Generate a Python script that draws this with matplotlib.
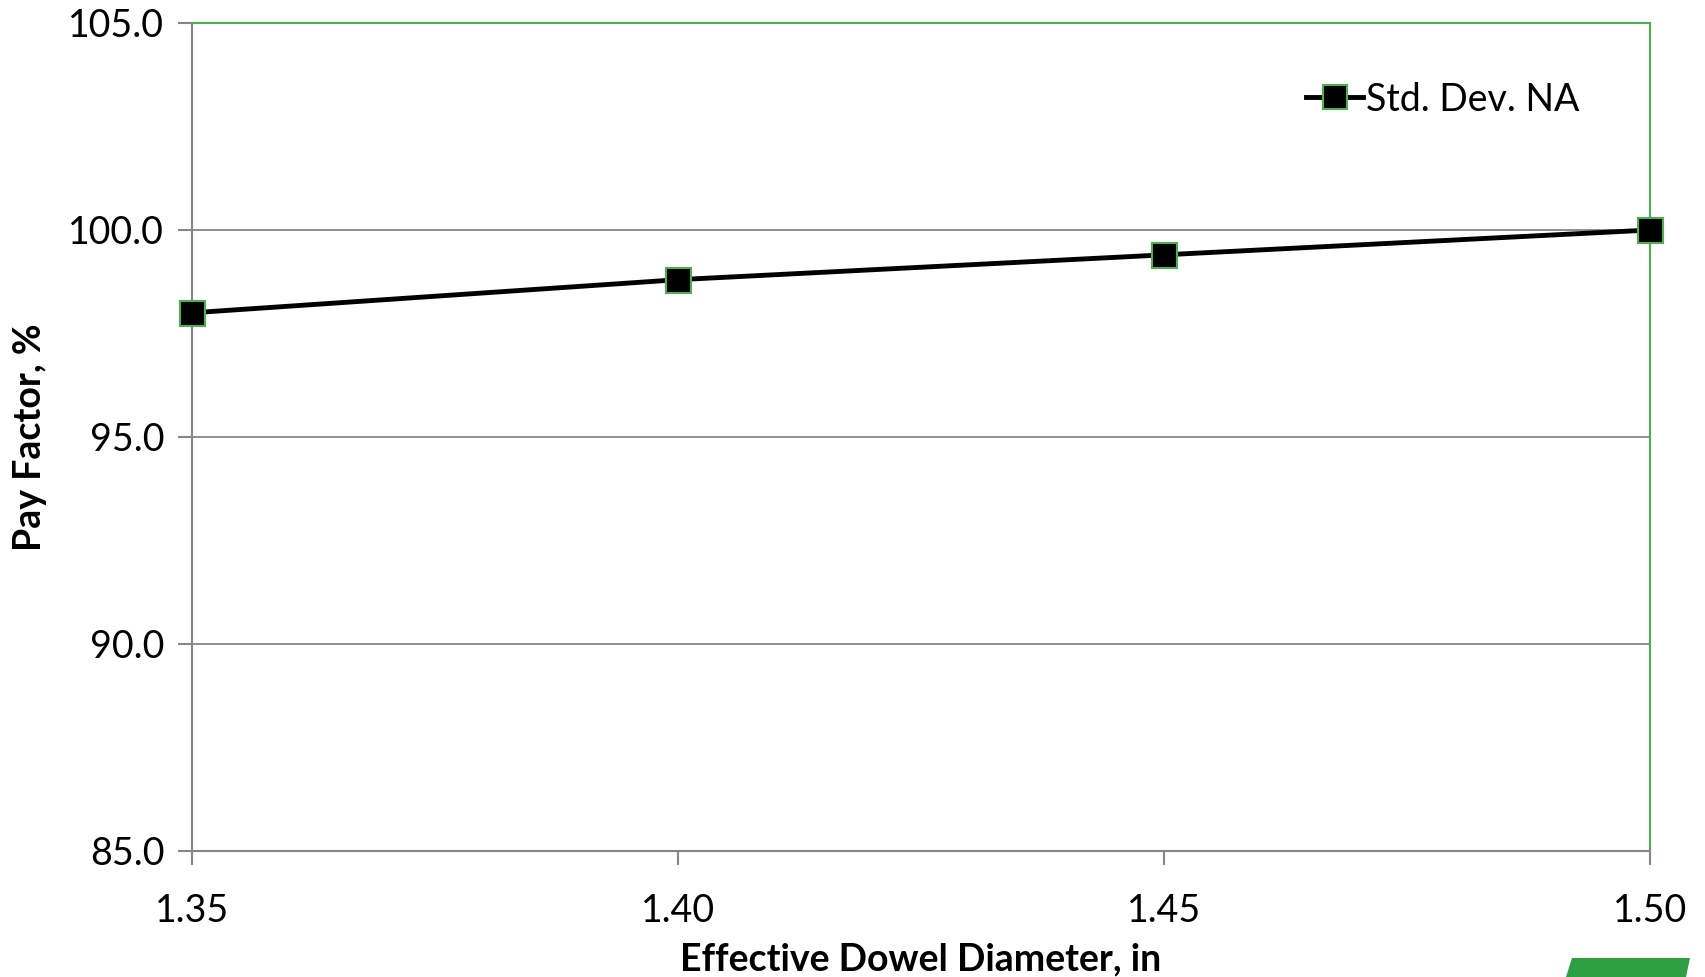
"""Pay factor vs effective dowel diameter."""

import matplotlib

matplotlib.use("Agg")

import matplotlib.pyplot as plt
from matplotlib.patches import Polygon

diameters = [1.35, 1.40, 1.45, 1.50]
pay_factor = [98.0, 98.8, 99.4, 100.0]
y_ticks = [85.0, 90.0, 95.0, 100.0, 105.0]
x_ticks = [1.35, 1.40, 1.45, 1.50]

GREY = "#868686"
GREEN = "#4CAF50"

plt.rcParams["font.family"] = ["Lato", "DejaVu Sans"]

fig = plt.figure(figsize=(17.06, 9.77), dpi=100)
ax = fig.add_axes([192 / 1706, 1 - 851 / 977, (1650 - 192) / 1706, (851 - 23) / 977])

ax.plot(
    diameters,
    pay_factor,
    color="black",
    linewidth=3.5,
    marker="s",
    markersize=18,
    markerfacecolor="black",
    markeredgecolor=GREEN,
    markeredgewidth=1.5,
    label="Std. Dev. NA",
    clip_on=False,
    zorder=5,
)

ax.set_xlim(1.35, 1.50)
ax.set_ylim(85.0, 105.0)
ax.set_xticks(x_ticks)
ax.set_xticklabels([f"{v:.2f}" for v in x_ticks])
ax.set_yticks(y_ticks)
ax.set_yticklabels([f"{v:.1f}" for v in y_ticks])
ax.tick_params(axis="both", labelsize=27, length=10, width=1.5, color=GREY)
ax.tick_params(axis="x", pad=20)
ax.tick_params(axis="y", pad=10)
ax.grid(axis="y", color=GREY, linewidth=1.3)

ax.spines["left"].set_color(GREY)
ax.spines["bottom"].set_color(GREY)
ax.spines["top"].set_color(GREEN)
ax.spines["right"].set_color(GREEN)
for spine in ax.spines.values():
    spine.set_linewidth(1.5)

ax.set_xlabel("Effective Dowel Diameter, in", fontsize=27, fontweight="bold", labelpad=10)
ax.set_ylabel("Pay Factor, %", fontsize=27, fontweight="bold", labelpad=15)

ax.legend(
    loc="upper right",
    bbox_to_anchor=(0.975, 0.97),
    frameon=False,
    fontsize=27,
    handlelength=1.5,
    handletextpad=0.1,
    markerscale=0.95,
)

# partial logo cut off at the bottom-right corner
fig.patches.append(
    Polygon(
        [(1566, 0), (1572, 19), (1690, 19), (1686, 0)],
        closed=True,
        transform=None,
        facecolor="#2EA043",
        edgecolor="none",
    )
)

fig.savefig("out.png", dpi=100)
plt.close(fig)
